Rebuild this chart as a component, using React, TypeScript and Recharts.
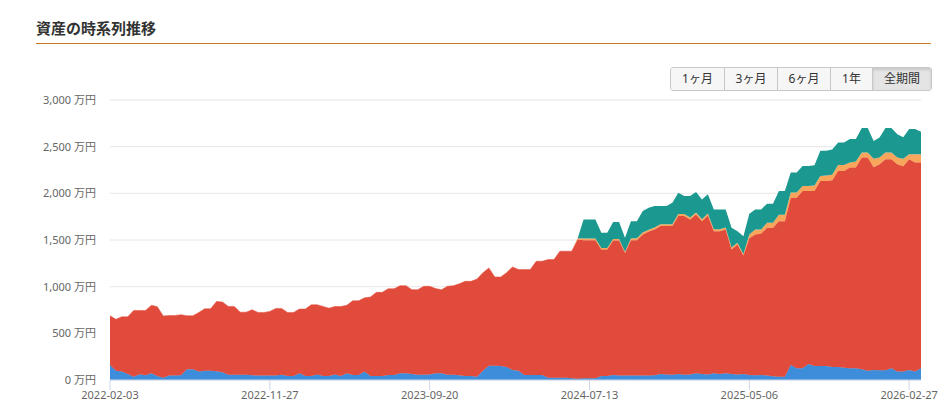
import React from "react";
import { AreaChart, Area, XAxis, YAxis, CartesianGrid } from "recharts";

// one sample every 11 days starting 2022-02-03
const START_DATE = "2022-02-03";
const STEP_DAYS = 11;

// 万円
const CASH = [
  160, 100, 90, 65, 36, 61, 50, 72, 43, 25,
  47, 47, 50, 115, 115, 90, 100, 100, 95, 82,
  57, 57, 57, 57, 50, 47, 47, 47, 47, 55,
  43, 43, 72, 43, 43, 60, 43, 43, 60, 43,
  72, 54, 54, 90, 43, 43, 43, 54, 54, 72,
  72, 65, 57, 57, 60, 72, 72, 57, 57, 50,
  43, 43, 36, 100, 154, 154, 150, 140, 108, 100,
  54, 54, 54, 54, 25, 25, 25, 25, 20, 14,
  18, 18, 18, 43, 43, 54, 47, 47, 47, 47,
  47, 47, 50, 65, 60, 57, 65, 57, 60, 72,
  65, 60, 72, 65, 72, 65, 60, 65, 54, 50,
  54, 47, 40, 36, 36, 161, 125, 125, 172, 150,
  150, 150, 140, 140, 130, 125, 125, 115, 100, 108,
  104, 104, 125, 90, 90, 108, 90, 125,
];

const STOCKS = [
  528, 550, 587, 612, 709, 684, 695, 728, 742, 660,
  644, 644, 650, 573, 573, 634, 663, 663, 747, 753,
  731, 731, 670, 670, 703, 677, 677, 688, 720, 712,
  681, 681, 688, 717, 763, 746, 745, 727, 728, 745,
  728, 795, 795, 790, 846, 896, 896, 924, 924, 939,
  939, 903, 911, 947, 944, 908, 896, 947, 954, 980,
  1014, 1014, 1046, 1050, 1047, 950, 954, 1010, 1104, 1083,
  1129, 1129, 1218, 1218, 1265, 1265, 1355, 1355, 1360, 1491,
  1480, 1480, 1480, 1355, 1355, 1441, 1448, 1313, 1451, 1451,
  1512, 1543, 1563, 1584, 1589, 1592, 1691, 1699, 1660, 1702,
  1637, 1703, 1523, 1530, 1541, 1333, 1392, 1268, 1466, 1509,
  1516, 1584, 1591, 1666, 1666, 1792, 1828, 1900, 1853, 1875,
  1983, 1983, 2000, 2100, 2110, 2151, 2151, 2269, 2284, 2172,
  2208, 2262, 2241, 2222, 2200, 2258, 2240, 2205,
];

const BONDS = [
  0, 0, 0, 0, 0, 0, 0, 0, 0, 0,
  0, 0, 0, 0, 0, 0, 0, 0, 0, 0,
  0, 0, 0, 0, 0, 0, 0, 0, 0, 0,
  0, 0, 0, 0, 0, 0, 0, 0, 0, 0,
  0, 0, 0, 0, 0, 0, 0, 0, 0, 0,
  0, 0, 0, 0, 0, 0, 0, 0, 0, 0,
  0, 0, 0, 0, 0, 0, 0, 0, 0, 0,
  0, 0, 0, 0, 0, 0, 0, 0, 0, 15,
  17, 17, 17, 17, 17, 17, 17, 15, 17, 20,
  21, 20, 22, 21, 21, 21, 22, 22, 22, 21,
  20, 22, 20, 20, 22, 22, 18, 17, 40, 54,
  43, 53, 53, 68, 68, 57, 57, 54, 54, 60,
  53, 57, 60, 64, 64, 54, 64, 53, 53, 90,
  72, 71, 71, 72, 80, 53, 89, 89,
];

const FUNDS = [
  0, 0, 0, 0, 0, 0, 0, 0, 0, 0,
  0, 0, 0, 0, 0, 0, 0, 0, 0, 0,
  0, 0, 0, 0, 0, 0, 0, 0, 0, 0,
  0, 0, 0, 0, 0, 0, 0, 0, 0, 0,
  0, 0, 0, 0, 0, 0, 0, 0, 0, 0,
  0, 0, 0, 0, 0, 0, 0, 0, 0, 0,
  0, 0, 0, 0, 0, 0, 0, 0, 0, 0,
  0, 0, 0, 0, 0, 0, 0, 0, 0, 0,
  205, 205, 205, 162, 162, 180, 180, 148, 187, 184,
  230, 236, 229, 194, 194, 230, 229, 193, 229, 219,
  213, 205, 213, 213, 193, 211, 125, 191, 220, 215,
  215, 205, 205, 255, 255, 212, 212, 215, 215, 215,
  269, 265, 270, 241, 241, 251, 241, 262, 262, 190,
  215, 262, 262, 250, 230, 269, 269, 241,
];

const Y_TICKS = [0, 500, 1000, 1500, 2000, 2500, 3000];
const RANGE_BUTTONS = ["1ヶ月", "3ヶ月", "6ヶ月", "1年", "全期間"];

const COLORS = {
  cash: "#3d8ddb",
  stocks: "#e14b3b",
  bonds: "#f8a65b",
  funds: "#1b9990",
};

const FONT = '"Noto Sans", "Noto Sans CJK JP", sans-serif';

const startMs = Date.parse(START_DATE + "T00:00:00Z");
const chartData = CASH.map((cash, i) => ({
  date: new Date(startMs + i * STEP_DAYS * 86400000).toISOString().slice(0, 10),
  cash,
  stocks: STOCKS[i],
  bonds: BONDS[i],
  funds: FUNDS[i],
}));

const BUTTON_WIDTHS = [54, 53, 53, 42, 58];

function RangeButtons() {
  return (
    <div
      style={{
        position: "absolute",
        left: 670,
        top: 67,
        height: 24,
        display: "flex",
        border: "1px solid #c8c8c8",
        borderRadius: 3,
        overflow: "hidden",
        boxSizing: "border-box",
        fontSize: 12,
        color: "#333",
      }}
    >
      {RANGE_BUTTONS.map((label, i) => {
        const active = i === RANGE_BUTTONS.length - 1;
        return (
          <div
            key={label}
            style={{
              width: BUTTON_WIDTHS[i],
              boxSizing: "border-box",
              textAlign: "center",
              lineHeight: "22px",
              background: active ? "#e4e4e4" : "#f6f6f6",
              boxShadow: active ? "inset 0 2px 3px rgba(0,0,0,0.12)" : "none",
              borderRight: i < RANGE_BUTTONS.length - 1 ? "1px solid #c8c8c8" : "none",
            }}
          >
            {label}
          </div>
        );
      })}
    </div>
  );
}

export default function App() {
  return (
    <div
      style={{
        position: "absolute",
        left: 0,
        top: 0,
        width: 944,
        height: 410,
        background: "#fff",
        fontFamily: FONT,
        overflow: "hidden",
      }}
    >
      <div style={{ position: "absolute", left: 0, top: 0 }}>
        <AreaChart
          width={944}
          height={410}
          data={chartData}
          margin={{ top: 100, right: 23, bottom: 0, left: 0 }}
        >
          <CartesianGrid vertical={false} stroke="#e6e6e6" />
          <XAxis
            dataKey="date"
            interval={26}
            height={30}
            tickSize={10}
            tickMargin={1}
            axisLine={{ stroke: "#ccd6eb" }}
            tickLine={{ stroke: "#ccd6eb" }}
            tick={{ fill: "#666", fontSize: 11, fontFamily: FONT }}
          />
          <YAxis
            width={110}
            domain={[0, 3000]}
            ticks={Y_TICKS}
            axisLine={false}
            tickLine={false}
            tickSize={0}
            tickMargin={14}
            tickFormatter={(v: number) => `${v.toLocaleString("en-US")} 万円`}
            tick={{ fill: "#666", fontSize: 11, fontFamily: FONT }}
          />
          <Area
            type="linear"
            dataKey="cash"
            stackId="a"
            fill={COLORS.cash}
            fillOpacity={1}
            stroke={COLORS.cash}
            strokeWidth={0.5}
            isAnimationActive={false}
          />
          <Area
            type="linear"
            dataKey="stocks"
            stackId="a"
            fill={COLORS.stocks}
            fillOpacity={1}
            stroke={COLORS.stocks}
            strokeWidth={0.5}
            isAnimationActive={false}
          />
          <Area
            type="linear"
            dataKey="bonds"
            stackId="a"
            fill={COLORS.bonds}
            fillOpacity={1}
            stroke="none"
            isAnimationActive={false}
          />
          <Area
            type="linear"
            dataKey="funds"
            stackId="a"
            fill={COLORS.funds}
            fillOpacity={1}
            stroke="none"
            isAnimationActive={false}
          />
        </AreaChart>
      </div>

      <div
        style={{
          position: "absolute",
          left: 36,
          top: 18,
          fontSize: 15,
          fontWeight: "bold",
          color: "#333",
          fontFamily: '"Noto Sans CJK JP", sans-serif',
          lineHeight: "20px",
        }}
      >
        資産の時系列推移
      </div>
      <div
        style={{
          position: "absolute",
          left: 36,
          top: 43,
          width: 895,
          height: 1,
          background: "#cc7a2a",
        }}
      />
      <RangeButtons />
    </div>
  );
}
